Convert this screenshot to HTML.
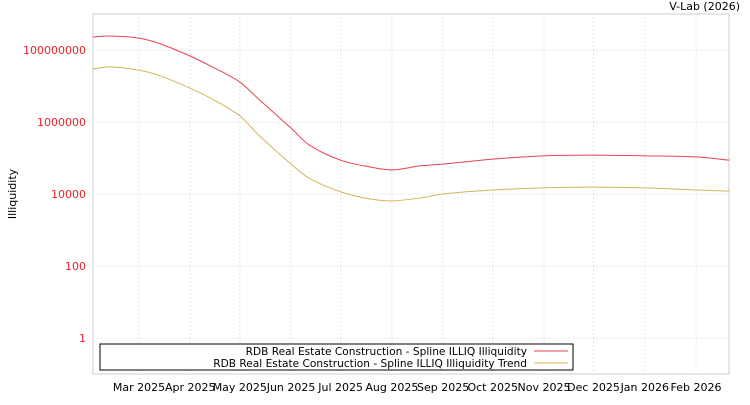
<!DOCTYPE html>
<html><head><meta charset="utf-8"><style>
body{margin:0;background:#fff;font-family:"Liberation Sans","DejaVu Sans",sans-serif;}
svg text{font-family:"DejaVu Sans","Liberation Sans",sans-serif;}
</style></head><body>
<svg id="chart" width="750" height="400">
<text x="740" y="10" font-size="11" text-anchor="end">V-Lab (2026)</text>
<rect x="93" y="14" width="636" height="360" fill="none" stroke="#ccc"/>
<g id="grid"></g><g id="yticks"></g><g id="xticks"></g><g id="series"></g>
<text transform="translate(16,194) rotate(-90)" font-size="11" text-anchor="middle">Illiquidity</text>
<g>
<rect x="100" y="344" width="473" height="26" fill="#fff" stroke="#000"/>
<text x="527" y="355" font-size="10.6" text-anchor="end">RDB Real Estate Construction - Spline ILLIQ Illiquidity</text>
<line x1="534" y1="351" x2="568" y2="351" stroke="#e8414e"/>
<text x="527" y="367" font-size="10.6" text-anchor="end">RDB Real Estate Construction - Spline ILLIQ Illiquidity Trend</text>
<line x1="534" y1="363" x2="568" y2="363" stroke="#d4b55a"/>
</g>
</svg>
<script>
const days=[0,10,28,41,59,71,89,101,120,131,150,168,181,198,212,242,273,303,334,365,385];
const illiqLog=[8.36,8.39,8.33,8.17,7.83,7.56,7.11,6.61,5.83,5.36,4.94,4.75,4.67,4.78,4.83,4.97,5.06,5.08,5.06,5.03,4.94];
const trendLog=[7.47,7.53,7.44,7.28,6.94,6.67,6.17,5.61,4.83,4.44,4.06,3.86,3.81,3.89,4.0,4.11,4.17,4.19,4.17,4.11,4.08];
const yTickExp=[0,2,4,6,8];
const yTickLabels=["1","100","10000","1000000","100000000"];
const monthDays=[28,59,89,120,150,181,212,242,273,303,334,365];
const monthLabels=["Mar 2025","Apr 2025","May 2025","Jun 2025","Jul 2025","Aug 2025","Sep 2025","Oct 2025","Nov 2025","Dec 2025","Jan 2026","Feb 2026"];
const NS="http://www.w3.org/2000/svg";
const xs=d=>92.7+d*1.653;
const ys=l=>338-36*l;
function mk(tag,attrs,parent){const e=document.createElementNS(NS,tag);for(const k in attrs)e.setAttribute(k,attrs[k]);document.getElementById(parent).appendChild(e);return e;}
yTickExp.forEach((e,i)=>{
 const g=mk('line',{x1:93,x2:729,y1:ys(e),y2:ys(e),stroke:'#ccc','stroke-dasharray':'1,3'},'grid');
 
 
 const t=mk('text',{x:86,y:ys(e)+4,'font-size':11,'text-anchor':'end',fill:'#e8202e'},'yticks');
 t.textContent=yTickLabels[i];
 
 
});
monthDays.forEach((d,i)=>{
 const g=mk('line',{x1:xs(d),x2:xs(d),y1:14,y2:374,stroke:'#ccc','stroke-dasharray':'1,3'},'grid');
 
 
 const t=mk('text',{x:xs(d),y:391,'font-size':11,'text-anchor':'middle'},'xticks');
 t.textContent=monthLabels[i];
 
 
});
function pathFor(vals){
 const p=days.map((d,i)=>[xs(d),ys(vals[i])]);
 let s='M'+p[0][0]+','+p[0][1];
 for(let i=0;i<p.length-1;i++){
  const p0=p[Math.max(0,i-1)],p1=p[i],p2=p[i+1],p3=p[Math.min(p.length-1,i+2)];
  const h=p2[0]-p1[0];
  const m1=(p2[1]-p0[1])/(p2[0]-p0[0]||1), m2=(p3[1]-p1[1])/(p3[0]-p1[0]||1);
  const c1=[p1[0]+h/3,p1[1]+m1*h/3];
  const c2=[p2[0]-h/3,p2[1]-m2*h/3];
  s+=' C'+c1+' '+c2+' '+p2;
 }
 return s;
}
const l1=mk('path',{d:pathFor(illiqLog),fill:'none',stroke:'#e8414e','stroke-width':1},'series');


const l2=mk('path',{d:pathFor(trendLog),fill:'none',stroke:'#d4b55a','stroke-width':1},'series');


</script>
</body></html>
